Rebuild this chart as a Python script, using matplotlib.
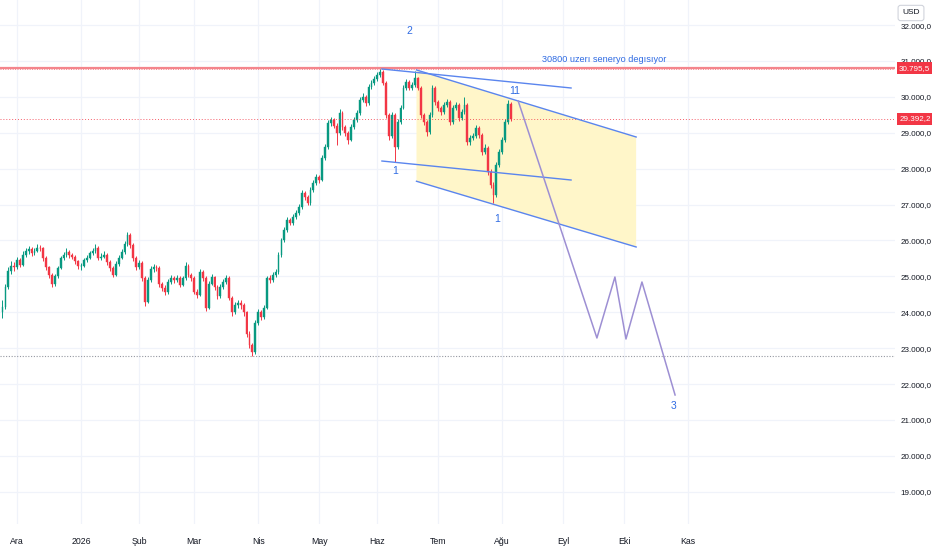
import numpy as np
import pandas as pd
import matplotlib
matplotlib.use("Agg")
import matplotlib.pyplot as plt
from matplotlib.patches import Polygon

plt.rcParams['font.family'] = ['Liberation Sans', 'DejaVu Sans']

# ---------------- data ----------------
start_date = '2025-11-21'
holidays = ['2025-11-27', '2025-12-25', '2026-01-01', '2026-01-19', '2026-02-16',
            '2026-04-03', '2026-05-25', '2026-06-19', '2026-07-03', '2026-09-07',
            '2026-11-26', '2026-12-25']
month_keys = ['2025-12', '2026-01', '2026-02', '2026-03', '2026-04', '2026-05',
              '2026-06', '2026-07', '2026-08', '2026-09', '2026-10', '2026-11']
month_labels = ['Ara', '2026', 'Şub', 'Mar', 'Nis', 'May', 'Haz', 'Tem', 'Ağu', 'Eyl', 'Eki', 'Kas']

first_open = 24000
closes = [24150, 24700, 25150, 25300, 25250, 25450, 25320, 25600, 25700, 25750,
          25650, 25720, 25800, 25780, 25500, 25250, 25050, 24780, 25000, 25230,
          25500, 25600, 25680, 25600, 25540, 25420, 25280, 25300, 25450, 25520,
          25650, 25700, 25800, 25520, 25550, 25600, 25400, 25230, 25050, 25350,
          25520, 25680, 25900, 26150, 25880, 25500, 25250, 25380, 24950, 24300,
          24900, 25200, 25250, 25230, 24780, 24680, 24560, 24840, 24960, 24900,
          24950, 24760, 24950, 25300, 25040, 24950, 24570, 24480, 25120, 24950,
          24120, 24800, 24980, 24700, 24450, 24700, 24850, 24950, 24400, 24010,
          24200, 24250, 24200, 24000, 23400, 23100, 22900, 23700, 24000, 23870,
          24120, 24950, 24900, 25040, 25120, 25600, 26000, 26300, 26570, 26490,
          26650, 26770, 26930, 27320, 27210, 27050, 27400, 27600, 27770, 27690,
          28300, 28600, 29270, 29360, 29200, 28990, 29550, 29160, 29000, 28800,
          29160, 29350, 29550, 29910, 30000, 29830, 30280, 30390, 30500, 30600,
          30700, 30400, 29500, 28900, 29500, 28600, 29300, 29700, 30250, 30420,
          30250, 30330, 30520, 30250, 29500, 29300, 29020, 29500, 30250, 29860,
          29700, 29580, 29770, 29860, 29300, 29690, 29770, 29410, 29580, 29770,
          28750, 28850, 28900, 29130, 28940, 28470, 28580, 27910, 27550, 27270,
          28100, 28470, 28800, 29300, 29800, 29392.2]
highs = [24350, 24800, 25250, 25420, 25400, 25550, 25520, 25700, 25800, 25850,
         25820, 25800, 25900, 25880, 25820, 25560, 25300, 25100, 25080, 25300,
         25580, 25680, 25780, 25740, 25660, 25600, 25460, 25380, 25520, 25600,
         25720, 25800, 25900, 25850, 25640, 25700, 25650, 25450, 25280, 25420,
         25600, 25750, 25980, 26230, 26200, 25920, 25560, 25460, 25420, 25000,
         24980, 25280, 25340, 25330, 25280, 24850, 24750, 24920, 25040, 25020,
         25040, 25000, 25020, 25400, 25350, 25100, 25000, 24640, 25200, 25180,
         25000, 24880, 25060, 25020, 24760, 24780, 24930, 25040, 25000, 24450,
         24300, 24350, 24330, 24260, 24050, 23480, 23150, 23780, 24080, 24060,
         24200, 25020, 25030, 25120, 25200, 25680, 26080, 26380, 26650, 26640,
         26730, 26850, 27010, 27400, 27380, 27260, 27480, 27680, 27850, 27830,
         28380, 28680, 29350, 29450, 29420, 29260, 29650, 29600, 29220, 29060,
         29240, 29430, 29630, 29990, 30100, 30060, 30360, 30470, 30580, 30680,
         30795.5, 30750, 30450, 29560, 29580, 29550, 29380, 29780, 30330, 30500,
         30480, 30420, 30720, 30560, 30300, 29560, 29360, 29580, 30330, 30300,
         29920, 29760, 29850, 29940, 29900, 29770, 29850, 29820, 29660, 30000,
         29820, 28950, 29000, 29220, 29200, 29000, 28680, 28640, 27980, 27620,
         28180, 28550, 28880, 29380, 29900, 29850]
lows = [23850, 24100, 24650, 25080, 25150, 25200, 25250, 25280, 25550, 25620,
        25580, 25600, 25680, 25700, 25420, 25180, 24950, 24700, 24720, 24950,
        25200, 25450, 25550, 25520, 25480, 25350, 25200, 25180, 25250, 25400,
        25480, 25600, 25650, 25450, 25460, 25500, 25330, 25150, 24980, 25000,
        25300, 25480, 25620, 25850, 25800, 25420, 25180, 25200, 24880, 24180,
        24250, 24850, 25120, 25150, 24700, 24600, 24480, 24500, 24800, 24820,
        24850, 24700, 24720, 24900, 24980, 24880, 24500, 24400, 24450, 24880,
        24050, 24080, 24750, 24620, 24380, 24400, 24650, 24800, 24330, 23900,
        23950, 24120, 24100, 23900, 23300, 23000, 22769, 22850, 23650, 23780,
        23800, 24080, 24820, 24850, 24980, 25080, 25550, 25950, 26250, 26420,
        26440, 26600, 26720, 26880, 27140, 26980, 27000, 27350, 27550, 27600,
        27650, 28250, 28550, 29200, 29120, 28650, 28950, 29080, 28900, 28700,
        28760, 29100, 29300, 29500, 29850, 29750, 29780, 30230, 30340, 30450,
        30550, 30330, 29420, 28800, 28850, 28200, 28550, 29250, 29650, 30200,
        30180, 30180, 30280, 30180, 29420, 29220, 28900, 28980, 29450, 29780,
        29620, 29500, 29520, 29720, 29220, 29250, 29640, 29340, 29360, 29530,
        28650, 28650, 28800, 28850, 28860, 28380, 28400, 27820, 27460, 27040,
        27220, 28050, 28420, 28750, 29250, 29320]

# user drawings (bar index, price)
fan_top_x, fan_top_y = [130.6, 195.7], [30777, 30248]
fan_mid_x, fan_mid_y = [130.6, 195.7], [28214, 27685]
chan_x = [142.5, 218.1]
chan_top_y = [30750, 28883]
chan_bot_y = [27650, 25819]
wave_x = [177.5, 204.6, 210.8, 214.6, 220.1, 231.5]
wave_y = [29886, 23284, 24983, 23256, 24844, 21697]
label_texts = ['2', '1', '1', '11', '3']
label_x = [139.9, 135.1, 170.2, 176.4, 231.1]
label_y = [31836, 27936, 26599, 30164, 21390]
note_text = '30800 uzerı seneryo degısıyor'
note_x, note_y = 207.1, 31028
hline_price = 30795.5
last_price = 29392.2
low_price = 22769
y_ticks = list(range(19000, 33000, 1000))

# ---------------- figure ----------------
W, H = 932, 550
fig = plt.figure(figsize=(W / 100, H / 100), dpi=100)
fig.patch.set_facecolor('white')
ax = fig.add_axes([0, 26 / H, 895 / W, 524 / H])
ax.set_facecolor('white')

dates = pd.bdate_range(start_date, '2027-03-31', freq='C', holidays=holidays)
per = dates.to_period('M').astype(str)
tick_pos = [int(np.argmax(per == k)) for k in month_keys]

opens = [first_open] + closes[:-1]
up_c, dn_c = '#089981', '#f23645'
n = len(closes)
idx = np.arange(n)
cols = [up_c if c >= o else dn_c for o, c in zip(opens, closes)]
ax.vlines(idx, lows, highs, colors=cols, linewidth=0.7, zorder=3)
bottoms = [min(o, c) for o, c in zip(opens, closes)]
heights = [max(abs(c - o), 20) for o, c in zip(opens, closes)]
ax.bar(idx, heights, bottom=bottoms, width=0.62, color=cols, edgecolor=cols,
       linewidth=0.3, zorder=4)

# grid
for yv in y_ticks:
    ax.axhline(yv, color='#f0f3fa', linewidth=0.9, zorder=0)
for xv in tick_pos:
    ax.axvline(xv, color='#f0f3fa', linewidth=0.9, zorder=0)

# horizontal lines
ax.axhline(hline_price, color='#f4858c', linewidth=1.6, zorder=5)
ax.axhline(hline_price - 25, color='#f4858c', linewidth=0.7, linestyle=(0, (1, 1.5)), zorder=5)
ax.axhline(last_price, color='#f23645', linewidth=0.7, linestyle=(0, (1, 2)), alpha=0.8, zorder=5)
ax.axhline(low_price, color='#9598a1', linewidth=0.8, linestyle=(0, (1, 1.5)), zorder=2)

# channel
blue = '#5a85ee'
poly = Polygon([(chan_x[0], chan_top_y[0]), (chan_x[1], chan_top_y[1]),
                (chan_x[1], chan_bot_y[1]), (chan_x[0], chan_bot_y[0])],
               closed=True, facecolor='#fff6c9', edgecolor='none', zorder=1)
ax.add_patch(poly)
ax.plot(chan_x, chan_top_y, color=blue, linewidth=1.0, zorder=6)
ax.plot(chan_x, chan_bot_y, color=blue, linewidth=1.0, zorder=6)
ax.plot(fan_top_x, fan_top_y, color=blue, linewidth=1.0, zorder=6)
ax.plot(fan_mid_x, fan_mid_y, color=blue, linewidth=1.0, zorder=6)

# projected wave
ax.plot(wave_x, wave_y, color='#9d8fd3', linewidth=1.1, zorder=6)

# labels
tblue = '#2f6be3'
for t, x, y in zip(label_texts, label_x, label_y):
    ax.text(x, y, t, color=tblue, fontsize=7.5, ha='center', va='center', zorder=7)
ax.text(note_x, note_y, note_text, color=tblue, fontsize=6.6, ha='center', va='center', zorder=7)

# axes limits / ticks
ax.set_xlim(-0.86, 307.2)
ax.set_ylim(18103, 32699)
for s in ax.spines.values():
    s.set_visible(False)

def fmt(v):
    s = f"{v:,.1f}"
    return s.replace(',', 'X').replace('.', ',').replace('X', '.')

ax.yaxis.tick_right()
ax.set_yticks(y_ticks)
ax.set_yticklabels([fmt(v) for v in y_ticks])
ax.tick_params(axis='y', length=0, pad=4, labelsize=5.8, labelcolor='#131722')
ax.set_xticks(tick_pos)
ax.set_xticklabels(month_labels)
ax.tick_params(axis='x', length=0, pad=9, labelsize=6.3, labelcolor='#131722')

# price label boxes
for p in [hline_price, last_price]:
    ax.annotate(fmt(p), xy=(1.0, p), xycoords=('axes fraction', 'data'),
                xytext=(3, 0), textcoords='offset points', ha='left', va='center',
                fontsize=5.8, color='white', zorder=10, annotation_clip=False,
                bbox=dict(boxstyle='square,pad=0.3', facecolor='#f23645', edgecolor='none'))

# USD box
fig.text(911 / W, 1 - 13 / H, 'USD', fontsize=6, color='#131722', ha='center', va='center',
         bbox=dict(boxstyle='round,pad=0.5,rounding_size=0.3', facecolor='white',
                   edgecolor='#d1d4dc', linewidth=0.8))

fig.savefig('out.png', dpi=100, facecolor='white')
